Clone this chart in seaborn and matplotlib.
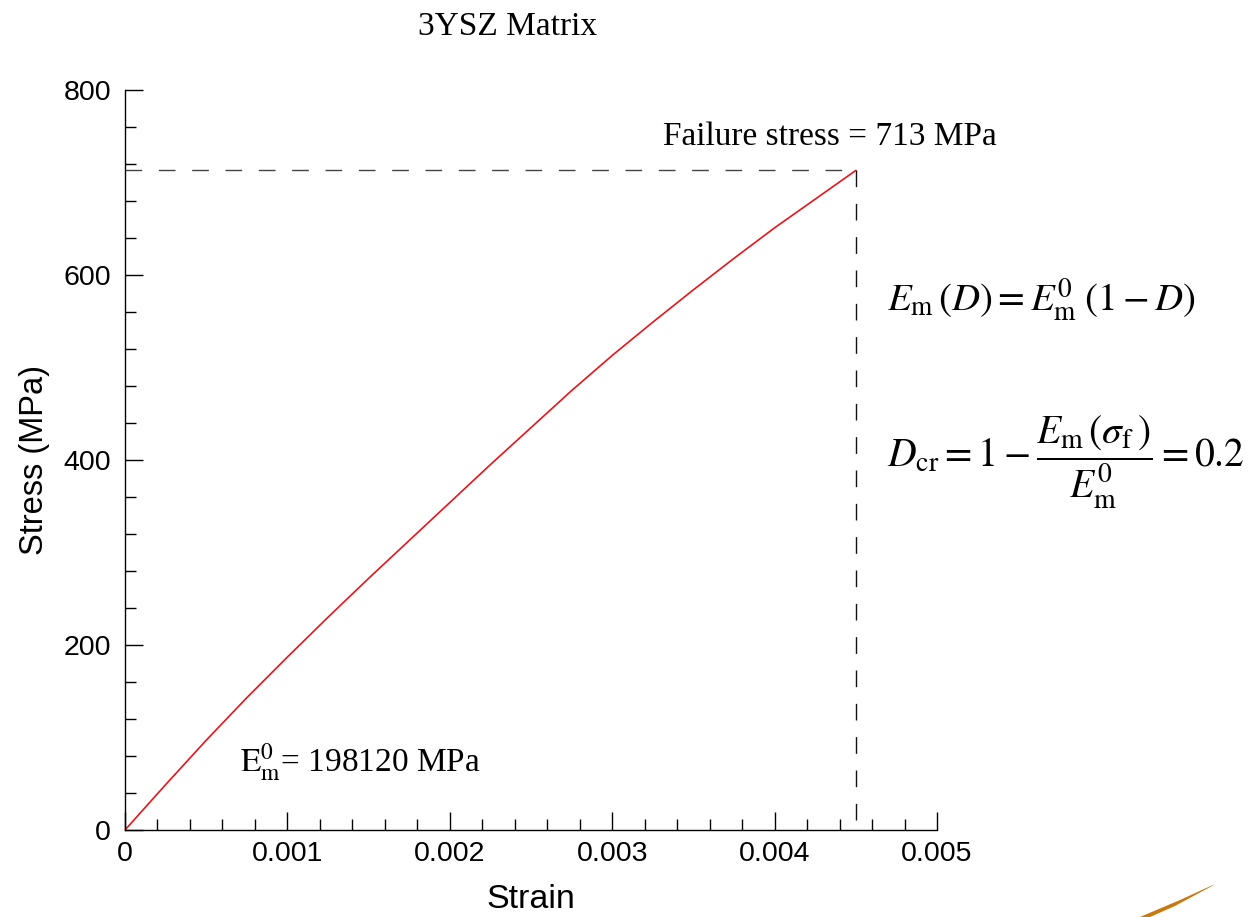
import matplotlib
matplotlib.use("Agg")
import matplotlib.pyplot as plt
import seaborn as sns
import pandas as pd
from matplotlib.ticker import MultipleLocator
from matplotlib.patches import Polygon

# ---- data ----
strain = [0.0, 0.00025, 0.0005, 0.00075, 0.001, 0.00125, 0.0015, 0.00175, 0.002,
          0.00225, 0.0025, 0.00275, 0.003, 0.00325, 0.0035, 0.00375, 0.004,
          0.00425, 0.0045]
stress = [0, 49, 97, 143, 187, 230, 272, 313, 354,
          395, 435, 475, 513, 549, 584, 618, 651, 682, 713]
failure_strain = 0.0045
failure_stress = 713
x_ticks = [0, 0.001, 0.002, 0.003, 0.004, 0.005]
x_ticklabels = ["0", "0.001", "0.002", "0.003", "0.004", "0.005"]
y_ticks = [0, 200, 400, 600, 800]

sns.set_style("ticks")
plt.rcParams["font.family"] = ["Liberation Sans", "DejaVu Sans"]
plt.rcParams["mathtext.fontset"] = "stix"
plt.rcParams["text.color"] = "black"
plt.rcParams["axes.labelcolor"] = "black"
plt.rcParams["xtick.color"] = "black"
plt.rcParams["ytick.color"] = "black"

fig = plt.figure(figsize=(12.49, 9.17), dpi=100)
ax = fig.add_axes([125/1249, 1 - 830/917, (937-125)/1249, (830-90)/917])

df = pd.DataFrame({"Strain": strain, "Stress": stress})
sns.lineplot(data=df, x="Strain", y="Stress", ax=ax, color="#e8141b", linewidth=1.2)

# dashed guide lines
ax.plot([0, failure_strain], [failure_stress, failure_stress], color="#444444",
        linewidth=1.0, dashes=(12, 12))
ax.plot([failure_strain, failure_strain], [failure_stress, 0], color="#111111",
        linewidth=1.0, dashes=(12, 12))

ax.set_xlim(0, 0.005)
ax.set_ylim(0, 800)
ax.set_xticks(x_ticks)
ax.set_xticklabels(x_ticklabels)
ax.set_yticks(y_ticks)
ax.xaxis.set_minor_locator(MultipleLocator(0.0002))
ax.yaxis.set_minor_locator(MultipleLocator(40))
ax.tick_params(which="major", direction="in", length=13, width=1.0, labelsize=20.5,
               color="black", labelcolor="black", pad=8)
ax.tick_params(which="minor", direction="in", length=8, width=1.0, color="black")
ax.tick_params(axis="y", which="major", pad=10)

for s in ["top", "right"]:
    ax.spines[s].set_visible(False)
for s in ["left", "bottom"]:
    ax.spines[s].set_linewidth(1.0)
    ax.spines[s].set_color("black")

ax.set_xlabel("Strain", fontsize=24.5, labelpad=12, color="black")
ax.set_ylabel("Stress (MPa)", fontsize=23.5, labelpad=10, color="black")

serif = ["Liberation Serif", "DejaVu Serif"]
fig.text(508/1249, 1 - 27/917, "3YSZ Matrix", family=serif, fontsize=24,
         ha="center", va="center", color="black")
fig.text(830/1249, 1 - 137/917, "Failure stress = 713 MPa", family=serif,
         fontsize=24, ha="center", va="center", color="black")
fig.text(240/1249, 1 - 762/917, r"$\mathrm{E}_{\mathrm{m}}^{0}$= 198120 MPa",
         family=serif, fontsize=24, ha="left", va="center", color="black")

fig.text(887/1249, 1 - 300/917,
         r"$E_{\mathrm{m}}\,(D) = E_{\mathrm{m}}^{0}\;(1 - D)$",
         fontsize=28, ha="left", va="center", color="black")
fig.text(887/1249, 1 - 462/917,
         r"$D_{\mathrm{cr}} = 1 - \dfrac{E_{\mathrm{m}}\,(\sigma_{\mathrm{f}}\,)}{E_{\mathrm{m}}^{0}} = 0.2$",
         fontsize=28.5, ha="left", va="center", color="black")

# small decorative swoosh at bottom-right
sw = Polygon([(1140/1249, 1 - 917/917), (1180/1249, 1 - 900/917),
              (1215/1249, 1 - 884/917), (1212/1249, 1 - 886/917),
              (1175/1249, 1 - 906/917), (1150/1249, 1 - 917/917)],
             closed=True, transform=fig.transFigure, facecolor="#c87a10",
             edgecolor="none")
fig.add_artist(sw)

fig.savefig("out.png", dpi=100, facecolor="white")
